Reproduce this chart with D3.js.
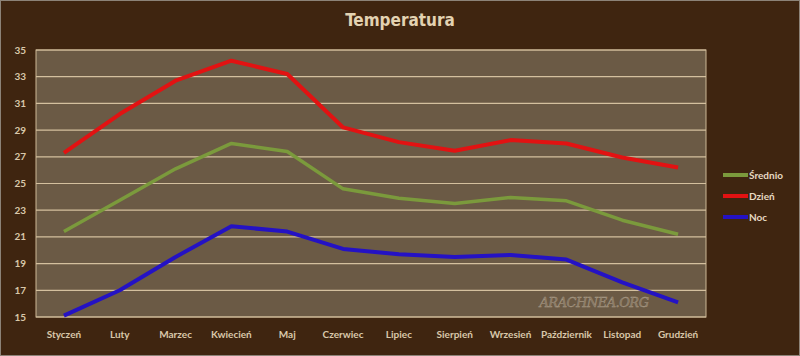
<!DOCTYPE html>
<html><head><meta charset="utf-8">
<script src="https://cdn.jsdelivr.net/npm/d3@7"></script>
<style>body{margin:0;background:#3f2510;}svg{display:block;}</style>
</head><body>
<svg id="c" width="800" height="356"></svg>
<script>
const title = "Temperatura";
const months = ["Styczeń","Luty","Marzec","Kwiecień","Maj","Czerwiec","Lipiec","Sierpień","Wrzesień","Październik","Listopad","Grudzień"];
const srednio = [21.4,23.75,26.1,28.0,27.4,24.6,23.9,23.5,23.95,23.7,22.25,21.2];
const dzien = [27.3,30.2,32.7,34.2,33.2,29.2,28.1,27.45,28.25,28.0,26.95,26.2];
const noc = [15.1,17.0,19.5,21.8,21.4,20.1,19.7,19.5,19.65,19.3,17.6,16.1];
const yTicks = [15,17,19,21,23,25,27,29,31,33,35];
const seriesNames = ["Średnio","Dzień","Noc"];
const seriesColors = ["#7b9a3c","#e21212","#2412c4"];

const svg = d3.select("#c");
const W = 800, H = 356;
const m = {l:36, r:94, t:50, b:39};
svg.append("rect").attr("x",0.5).attr("y",0.5).attr("width",W-1).attr("height",H-1)
  .attr("fill","#3f2510").attr("stroke","#8c8378");

const x = d3.scaleBand().domain(months).range([m.l, W-m.r]).paddingInner(0).paddingOuter(0);
const y = d3.scaleLinear().domain([15,35]).range([H-m.b, m.t]);

svg.append("rect").attr("x",m.l).attr("y",m.t).attr("width",W-m.r-m.l).attr("height",H-m.b-m.t)
  .attr("fill","#6b5a45").attr("stroke","#cdb896").attr("stroke-width",1);

svg.append("g").selectAll("line").data(yTicks).join("line")
  .attr("x1",m.l).attr("x2",W-m.r).attr("y1",d=>y(d)).attr("y2",d=>y(d))
  .attr("stroke","#d4c09e").attr("stroke-width",1.2);

const font = "Lato, 'Open Sans', sans-serif";
svg.append("g").selectAll("text").data(yTicks).join("text")
  .attr("x",26).attr("y",d=>y(d)).attr("dy","0.35em").attr("text-anchor","end")
  .attr("font-family",font).attr("font-weight","bold").attr("font-size",10)
  .attr("fill","#d9c8aa").text(d=>d);

svg.append("g").selectAll("text").data(months).join("text")
  .attr("x",d=>x(d)+x.bandwidth()/2).attr("y",338).attr("text-anchor","middle")
  .attr("font-family",font).attr("font-weight","bold").attr("font-size",10)
  .attr("fill","#d9c8aa").text(d=>d);

svg.append("text").attr("x",400).attr("y",26).attr("text-anchor","middle")
  .attr("font-family","'Liberation Sans Narrow','DejaVu Sans Condensed',sans-serif").attr("font-weight","bold").attr("font-size",17)
  .attr("fill","#e3d2b2").text(title);

// watermark
svg.append("text").attr("x",594).attr("y",307).attr("text-anchor","middle")
  .attr("font-family","'DejaVu Serif',serif").attr("font-style","italic").attr("font-size",13)
  .attr("letter-spacing",-0.5)
  .attr("fill","#857560").attr("stroke","#a89a86").attr("stroke-width",0.4)
  .text("ARACHNEA.ORG");

const line = d3.line().x((d,i)=>x(months[i])+x.bandwidth()/2).y(d=>y(d));
const data = [srednio, dzien, noc];
const widths = [3.5,4,4];
data.forEach((s,i)=>{
  svg.append("path").datum(s).attr("d",line).attr("fill","none")
    .attr("stroke",seriesColors[i]).attr("stroke-width",widths[i])
    .attr("stroke-linejoin","round").attr("stroke-linecap","butt");
});

const lg = svg.append("g");
seriesNames.forEach((n,i)=>{
  const yy = 175 + i*21;
  lg.append("line").attr("x1",723).attr("x2",748).attr("y1",yy).attr("y2",yy)
    .attr("stroke",seriesColors[i]).attr("stroke-width",4);
  lg.append("text").attr("x",749).attr("y",yy).attr("dy","0.35em")
    .attr("font-family",font).attr("font-weight","bold").attr("font-size",10)
    .attr("fill","#e6d9c2").text(n);
});
</script>
</body></html>
